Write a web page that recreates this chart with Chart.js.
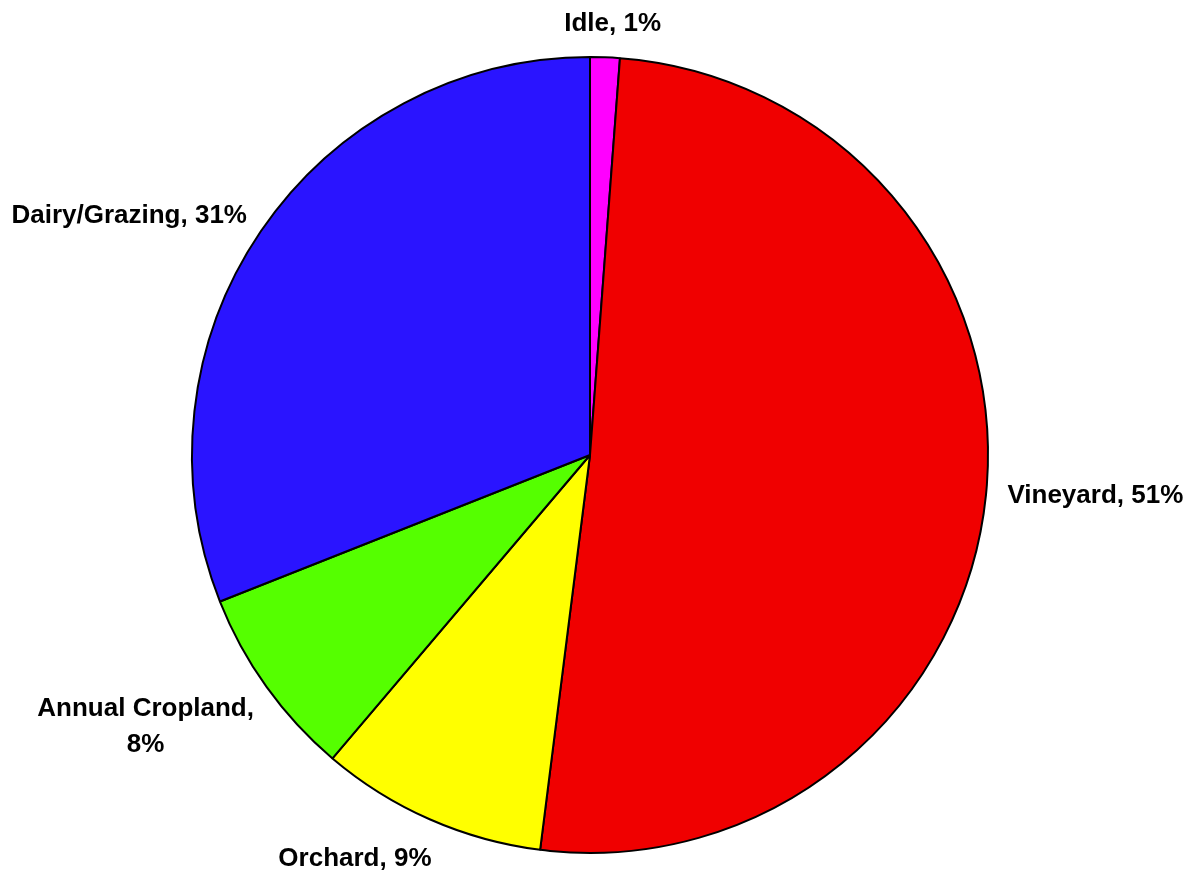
<!DOCTYPE html>
<html>
<head>
<meta charset="utf-8">
<script src="https://cdn.jsdelivr.net/npm/chart.js@4"></script>
<style>
  html, body { margin: 0; padding: 0; background: #fff; }
  #wrap { width: 1195px; height: 873px; }
</style>
</head>
<body>
<div id="wrap"><canvas id="landUseChart"></canvas></div>
<script>
// land use shares (%), clockwise from 12 o'clock
const categories = ["Idle", "Vineyard", "Orchard", "Annual Cropland", "Dairy/Grazing"];
const shares = [1.2, 50.8, 9.2, 7.8, 31.0];
const sliceColors = ["#ff00ff", "#f00000", "#ffff00", "#55ff00", "#2a14ff"];

// label text lines (Excel-style "Name, N%")
function labelLines(i, total) {
    let pct = Math.round(shares[i] / total * 100) + "%";
    if (categories[i] === "Annual Cropland") return [categories[i] + ",", pct];
    return [categories[i] + ", " + pct];
}

// draws the outside labels next to each slice
const outsideLabels = {
    id: "outsideLabels",
    afterDatasetsDraw(chart, args, opts) {
        let ctx = chart.ctx;
        let meta = chart.getDatasetMeta(0);
        let total = shares.reduce((a, b) => a + b, 0);
        ctx.save();
        ctx.font = "bold 26px 'Liberation Sans', Arial, sans-serif";
        ctx.fillStyle = "#000";
        ctx.textBaseline = "middle";
        ctx.textAlign = "center";
        meta.data.forEach(function (arc, i) {
            let p = arc.getProps(["x", "y", "startAngle", "endAngle", "outerRadius"], true);
            let mid = (p.startAngle + p.endAngle) / 2;
            let cos = Math.cos(mid), sin = Math.sin(mid);
            let r = p.outerRadius + opts.pad;
            let ax = p.x + r * cos, ay = p.y + r * sin;
            let lines = labelLines(i, total);
            let w = Math.max(...lines.map(l => ctx.measureText(l).width));
            let h = 26 + (lines.length - 1) * opts.lineHeight;
            let left = ax + (cos - 1) / 2 * w;
            let top = ay + (sin - 1) / 2 * h;
            let nudge = opts.nudge[i] || [0, 0];
            lines.forEach(function (line, k) {
                ctx.fillText(line, left + w / 2 + nudge[0], top + 15 + k * opts.lineHeight + nudge[1]);
            });
        });
        ctx.restore();
    }
};

new Chart(document.getElementById("landUseChart"), {
    type: "pie",
    data: {
        labels: categories,
        datasets: [{
            data: shares,
            backgroundColor: sliceColors,
            borderColor: "#000",
            borderWidth: 2,
            radius: 398
        }]
    },
    options: {
        responsive: true,
        maintainAspectRatio: false,
        animation: false,
        layout: { padding: { top: 57, bottom: 20, left: 100, right: 115 } },
        plugins: {
            legend: { display: false },
            tooltip: { enabled: false },
            outsideLabels: {
                pad: 22,
                lineHeight: 36,
                nudge: [[5, 0], [0, -5], [-35, 6], [-15, 7], [-16, 2]]
            }
        }
    },
    plugins: [outsideLabels]
});
</script>
</body>
</html>
